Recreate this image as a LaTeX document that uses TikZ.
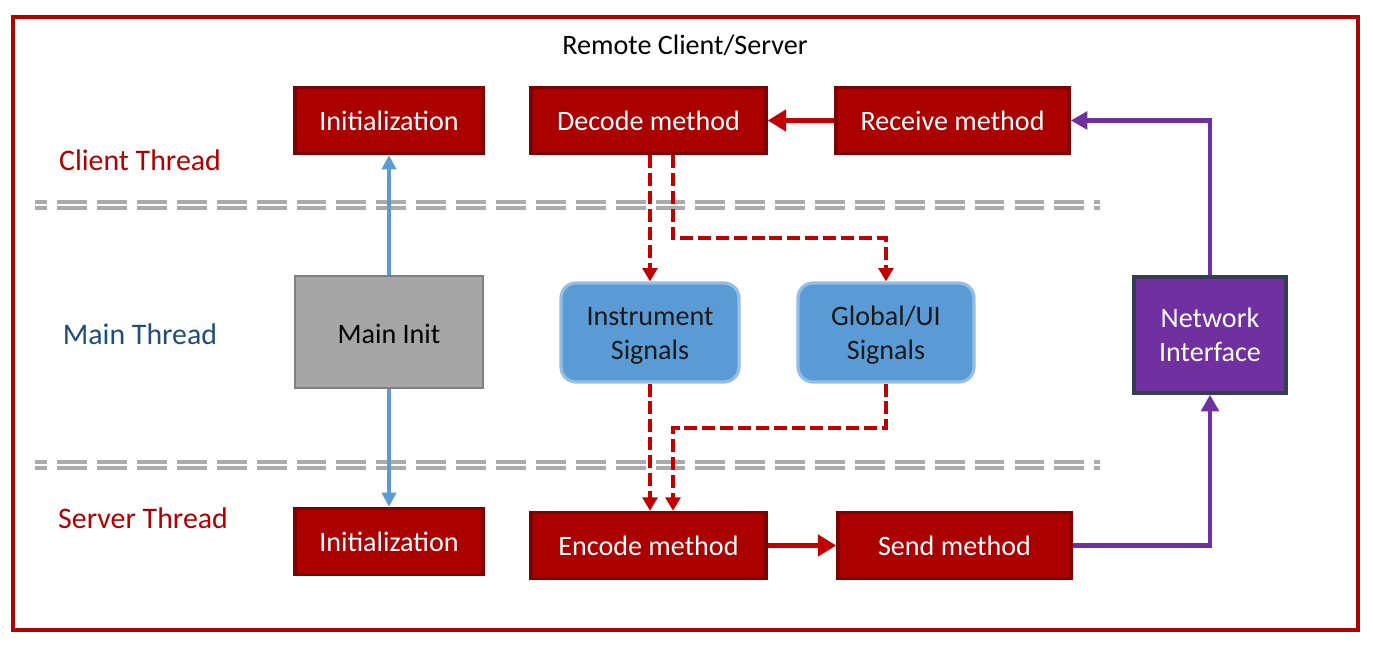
\documentclass[tikz,border=0pt]{standalone}
\usepackage{fontspec}
\setmainfont{Carlito}
\usetikzlibrary{arrows.meta}

\definecolor{boxred}{HTML}{AA0000}
\definecolor{edgered}{HTML}{800000}
\definecolor{arrred}{HTML}{C00000}
\definecolor{labred}{HTML}{B00000}
\definecolor{mainblue}{HTML}{1F4E79}
\definecolor{sigblue}{HTML}{5B9BD5}
\definecolor{initgray}{HTML}{A6A6A6}
\definecolor{edgegray}{HTML}{7F7F7F}
\definecolor{netpurple}{HTML}{7030A0}
\definecolor{netedge}{HTML}{333F50}
\definecolor{sepgray}{HTML}{ABABAB}

\tikzset{
 method/.style={draw=edgered, fill=boxred, line width=2pt, text=white,
   minimum height=1.32cm, font=\fontsize{16}{19.3}\selectfont},
 maininit/.style={draw=edgegray, fill=initgray, line width=1.6pt,
   minimum width=3.76cm, minimum height=2.24cm, font=\fontsize{16}{19.3}\selectfont},
 signal/.style={draw=sigblue!65!white, fill=sigblue, line width=1.8pt, rounded corners=0.3cm,
   text=black!90, font=\fontsize{16}{19.3}\selectfont},
 netbox/.style={draw=netedge, fill=netpurple, line width=2pt, text=white, align=center,
   minimum width=3.04cm, minimum height=2.32cm, font=\fontsize{16}{19.3}\selectfont},
 thread/.style={font=\fontsize{17}{20}\selectfont},
 sep/.style={draw=sepgray, line width=2pt, dash pattern=on 17pt off 5.7pt, dash phase=10pt},
 initarr/.style={draw=sigblue, line width=2.1pt, -{Triangle[length=8pt, width=8pt]}},
 flowarr/.style={draw=arrred, line width=3.2pt, -{Triangle[length=10.5pt, width=12pt]}},
 sigarr/.style={draw=arrred, line width=2.5pt, dash pattern=on 7.4pt off 2.8pt,
   -{Triangle[length=7.6pt, width=8.4pt]}},
 netarr/.style={draw=netpurple, line width=2.6pt, -{Triangle[length=9.5pt, width=10pt]}}
}

\begin{document}
\begin{tikzpicture}[x=0.02cm, y=-0.02cm]
 \useasboundingbox (0,0) rectangle (1373,648);
 \draw[labred, line width=1.9pt] (13,17) rectangle (1358,630);
 \node (title) at (685,45) {\fontsize{16}{19.3}\selectfont Remote Client/Server};

 % thread separators
 \foreach \y in {202,208,462,468}
  \draw[sep] (35,\y) -- (1100,\y);

 % thread names
 \node[thread, text=labred] (client) at (140,160) {Client Thread};
 \node[thread, text=mainblue] (mainthr) at (140,334) {Main Thread};
 \node[thread, text=labred] (server) at (143,518) {Server Thread};

 % client thread
 \node[method, minimum width=3.76cm] (inittop) at (389,120.5) {Initialization};
 \node[method, minimum width=4.7cm] (decode) at (648.5,120.5) {Decode method};
 \node[method, minimum width=4.66cm] (receive) at (952.5,120.5) {Receive method};

 % main thread
 \node[maininit] (init) at (389,332) {\raisebox{-1.2pt}[\height][\depth]{Main Init}};
 \node[signal, minimum width=3.56cm, minimum height=1.98cm] (instr) at (650,332.5)
  {\raisebox{-1.8pt}[\height][\depth]{\begin{tabular}{@{}c@{}}Instrument\\Signals\end{tabular}}};
 \node[signal, minimum width=3.52cm, minimum height=1.98cm] (global) at (886,332.5)
  {\raisebox{-1.8pt}[\height][\depth]{\begin{tabular}{@{}c@{}}Global/UI\\Signals\end{tabular}}};
 \node[netbox] (network) at (1210,335) {Network\\Interface};

 % server thread
 \node[method, minimum width=3.76cm] (initbot) at (389,541.5) {Initialization};
 \node[method, minimum width=4.7cm] (encode) at (648.5,545.5) {Encode method};
 \node[method, minimum width=4.66cm] (send) at (954.5,545.5) {Send method};

 \coordinate (side) at (673,0);

 \draw[initarr] (init.north) -- (inittop.south);
 \draw[initarr] (init.south) -- (initbot.north);
 \draw[flowarr] (receive.west) -- (decode.east);
 \draw[flowarr] (encode.east) -- (send.west);
 \draw[netarr] (network.north) |- (receive.east);
 \draw[netarr] (send.east) -| (network.south);
 \draw[sigarr] (instr.north |- decode.south) -- (instr.north);
 \draw[sigarr] (side |- decode.south) -- (673,238) -| (global.north);
 \draw[sigarr] (instr.south) -- (instr.south |- encode.north);
 \draw[sigarr] (global.south) |- (673,428) -- (side |- encode.north);
\end{tikzpicture}
\end{document}
